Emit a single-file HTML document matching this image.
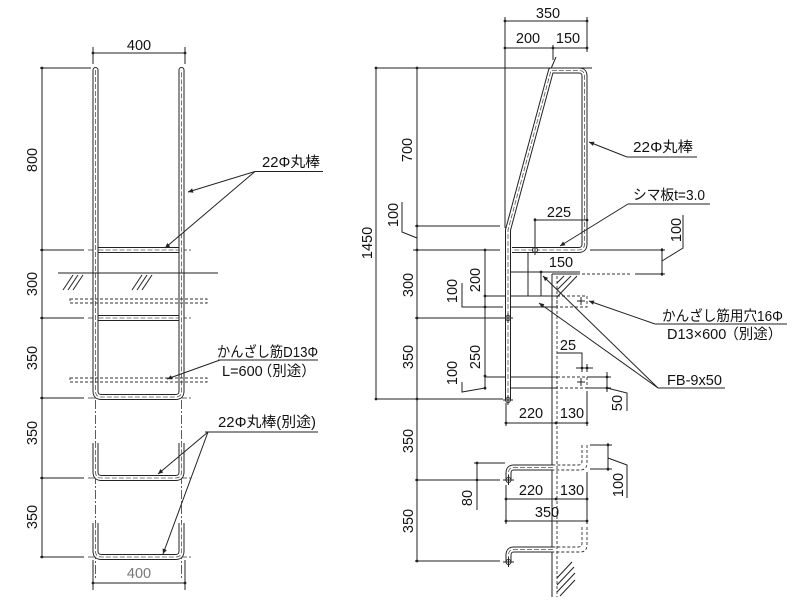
<!DOCTYPE html>
<html><head><meta charset="utf-8">
<style>
html,body{margin:0;padding:0;background:#fff;}
svg{display:block;}
text{font-family:"Liberation Sans","Noto Sans CJK JP",sans-serif;font-size:14.5px;fill:#111;}
.l{stroke:#222;stroke-width:1;fill:none;}
.d{stroke:#333;stroke-width:0.9;fill:none;stroke-dasharray:3 2;}
.c{stroke:#333;stroke-width:0.8;fill:none;stroke-dasharray:9 2 2 2;}
.t1{stroke:#222;stroke-width:6;fill:none;}
.t2{stroke:#fff;stroke-width:4;fill:none;}
.t3{stroke:#555;stroke-width:0.8;fill:none;stroke-dasharray:5 2;}
.dot{fill:#222;}
.m{text-anchor:middle;}
</style></head>
<body>
<svg width="800" height="603" viewBox="0 0 800 603" xmlns="http://www.w3.org/2000/svg">
<defs>
<marker id="a" viewBox="0 0 10 10" refX="10" refY="5" markerUnits="userSpaceOnUse" markerWidth="10" markerHeight="5" orient="auto">
<path d="M0,0.5 L10,5 L0,9.5 z" fill="#222"/>
</marker>
<path id="railL" d="M95.5,70 L95.5,391 Q95.5,397 101.5,397 L175.5,397 Q181.5,397 181.5,391 L181.5,70"/>
<path id="rung1" d="M98.5,250 L178.5,250"/>
<path id="rung2" d="M98.5,318 L178.5,318"/>
<path id="u1" d="M95.5,443 L95.5,472 Q95.5,478 101.5,478 L175.5,478 Q181.5,478 181.5,472 L181.5,443"/>
<path id="u2" d="M95.5,523 L95.5,551 Q95.5,557 101.5,557 L175.5,557 Q181.5,557 181.5,551 L181.5,523"/>
<path id="railR" d="M508,400 L508,230 L551,70.5 L579,70.5 Q584.5,70.5 584.5,76 L584.5,244 Q584.5,250 578.5,250 L512,250"/>
<path id="s1" d="M553,467.5 L514,467.5 Q508.5,467.5 508.5,473 L508.5,480"/>
<path id="s2" d="M553,549.5 L514,549.5 Q508.5,549.5 508.5,555 L508.5,562"/>
</defs>

<!-- ================= LEFT DRAWING ================= -->
<line class="l" x1="93" y1="53" x2="185" y2="53"/>
<line class="l" x1="93" y1="47" x2="93" y2="64"/>
<line class="l" x1="185" y1="47" x2="185" y2="64"/>
<circle class="dot" cx="93" cy="53" r="1.4"/><circle class="dot" cx="185" cy="53" r="1.4"/>
<text class="m" x="139" y="50">400</text>

<line class="l" x1="42" y1="68" x2="42" y2="557"/>
<line class="l" x1="40" y1="68" x2="91" y2="68"/>
<line class="l" x1="40" y1="250" x2="84" y2="250"/>
<line class="l" x1="40" y1="318" x2="84" y2="318"/>
<line class="l" x1="40" y1="398" x2="84" y2="398"/>
<line class="l" x1="40" y1="478" x2="84" y2="478"/>
<line class="l" x1="40" y1="557" x2="84" y2="557"/>
<circle class="dot" cx="42" cy="68" r="1.4"/><circle class="dot" cx="42" cy="250" r="1.4"/>
<circle class="dot" cx="42" cy="318" r="1.4"/><circle class="dot" cx="42" cy="398" r="1.4"/>
<circle class="dot" cx="42" cy="478" r="1.4"/><circle class="dot" cx="42" cy="557" r="1.4"/>
<text class="m" transform="translate(37,160) rotate(-90)">800</text>
<text class="m" transform="translate(37,284) rotate(-90)">300</text>
<text class="m" transform="translate(37,358) rotate(-90)">350</text>
<text class="m" transform="translate(37,433) rotate(-90)">350</text>
<text class="m" transform="translate(37,517) rotate(-90)">350</text>

<line class="c" x1="88" y1="250" x2="191" y2="250"/>
<line class="c" x1="88" y1="318" x2="191" y2="318"/>
<line class="c" x1="88" y1="398" x2="191" y2="398"/>
<line class="c" x1="88" y1="478" x2="191" y2="478"/>
<line class="c" x1="88" y1="557" x2="191" y2="557"/>
<line class="c" x1="95.5" y1="400" x2="95.5" y2="580"/>
<line class="c" x1="181.5" y1="400" x2="181.5" y2="580"/>

<use href="#railL" class="t1" stroke-linecap="round"/>
<use href="#railL" class="t2" stroke-linecap="round"/>
<use href="#railL" class="t3"/>
<use href="#rung1" class="t1"/><use href="#rung1" class="t2"/><use href="#rung1" class="t3"/>
<use href="#rung2" class="t1"/><use href="#rung2" class="t2"/><use href="#rung2" class="t3"/>
<use href="#u1" class="t1"/><use href="#u1" class="t2"/><use href="#u1" class="t3"/>
<use href="#u2" class="t1"/><use href="#u2" class="t2"/><use href="#u2" class="t3"/>

<line class="l" x1="58" y1="273" x2="218" y2="273"/>
<g class="l" stroke-width="0.8">
<line x1="63" y1="290" x2="73" y2="275"/><line x1="68" y1="290" x2="78" y2="275"/><line x1="73" y1="290" x2="83" y2="275"/>
<line x1="132" y1="290" x2="142" y2="275"/><line x1="137" y1="290" x2="147" y2="275"/><line x1="142" y1="290" x2="152" y2="275"/>
</g>

<rect class="d" x="70" y="299" width="137" height="4"/>
<rect class="d" x="70" y="378" width="137" height="4"/>

<text x="262" y="167" textLength="58" lengthAdjust="spacingAndGlyphs">22Φ丸棒</text>
<line class="l" x1="255" y1="171.5" x2="323" y2="171.5"/>
<line class="l" x1="255" y1="171.5" x2="188" y2="192" marker-end="url(#a)"/>
<line class="l" x1="255" y1="171.5" x2="165" y2="248" marker-end="url(#a)"/>

<text x="217" y="357" textLength="101" lengthAdjust="spacingAndGlyphs">かんざし筋D13Φ</text>
<line class="l" x1="218" y1="360" x2="318" y2="360"/>
<text x="222" y="376">L=600<tspan dx="-5">（別途）</tspan></text>
<line class="l" x1="220" y1="360" x2="167" y2="379" marker-end="url(#a)"/>

<text x="218" y="427" textLength="98" lengthAdjust="spacingAndGlyphs">22Φ丸棒(別途)</text>
<line class="l" x1="205" y1="432" x2="318" y2="432"/>
<line class="l" x1="208" y1="432" x2="158" y2="474" marker-end="url(#a)"/>
<line class="l" x1="208" y1="432" x2="163" y2="554" marker-end="url(#a)"/>

<text class="m" x="139" y="578" style="fill:#777">400</text>
<line class="l" x1="93" y1="583" x2="185" y2="583"/>
<line class="l" x1="93" y1="560" x2="93" y2="590"/>
<line class="l" x1="185" y1="560" x2="185" y2="590"/>
<circle class="dot" cx="93" cy="583" r="1.4"/><circle class="dot" cx="185" cy="583" r="1.4"/>

<!-- ================= RIGHT DRAWING ================= -->
<text class="m" x="548" y="18">350</text>
<line class="l" x1="505" y1="21" x2="587" y2="21"/>
<text class="m" x="528" y="43">200</text>
<text class="m" x="568" y="43">150</text>
<line class="l" x1="505" y1="48" x2="587" y2="48"/>
<line class="l" x1="505" y1="17" x2="505" y2="228"/>
<line class="l" x1="587" y1="17" x2="587" y2="52"/>
<line class="l" x1="553" y1="45" x2="553" y2="60"/>
<line class="l" x1="556" y1="57" x2="550" y2="71"/>
<circle class="dot" cx="505" cy="21" r="1.4"/><circle class="dot" cx="587" cy="21" r="1.4"/>
<circle class="dot" cx="505" cy="48" r="1.4"/><circle class="dot" cx="553" cy="48" r="1.4"/><circle class="dot" cx="587" cy="48" r="1.4"/>

<line class="l" x1="375" y1="68" x2="592" y2="68"/>

<line class="l" x1="376" y1="68" x2="376" y2="399"/>
<circle class="dot" cx="376" cy="68" r="1.4"/><circle class="dot" cx="376" cy="399" r="1.4"/>
<text class="m" transform="translate(372,243) rotate(-90)">1450</text>

<line class="l" x1="417" y1="68" x2="417" y2="561"/>
<circle class="dot" cx="417" cy="68" r="1.4"/><circle class="dot" cx="417" cy="226" r="1.4"/>
<circle class="dot" cx="417" cy="250" r="1.4"/><circle class="dot" cx="417" cy="318" r="1.4"/>
<circle class="dot" cx="417" cy="399" r="1.4"/><circle class="dot" cx="417" cy="480" r="1.4"/>
<circle class="dot" cx="417" cy="561" r="1.4"/>
<text class="m" transform="translate(412,150) rotate(-90)">700</text>
<text class="m" transform="translate(398,215) rotate(-90)">100</text>
<polyline class="l" points="402,202 402,232 417,238"/>
<text class="m" transform="translate(413,285) rotate(-90)">300</text>
<text class="m" transform="translate(413,357) rotate(-90)">350</text>
<text class="m" transform="translate(413,441) rotate(-90)">350</text>
<text class="m" transform="translate(413,521) rotate(-90)">350</text>

<line class="l" x1="415" y1="226" x2="500" y2="226"/>
<line class="l" x1="413" y1="250" x2="500" y2="250"/>
<line class="l" x1="590" y1="250" x2="665" y2="250"/>
<line class="l" x1="415" y1="318" x2="503" y2="318"/>
<line class="l" x1="376" y1="399" x2="503" y2="399"/>
<line class="l" x1="415" y1="480" x2="500" y2="480"/>
<line class="l" x1="415" y1="561" x2="500" y2="561"/>

<line class="l" x1="485" y1="250" x2="485" y2="390"/>
<circle class="dot" cx="485" cy="250" r="1.4"/><circle class="dot" cx="485" cy="296" r="1.4"/>
<circle class="dot" cx="485" cy="307" r="1.4"/><circle class="dot" cx="485" cy="376" r="1.4"/>
<circle class="dot" cx="485" cy="388" r="1.4"/>
<text class="m" transform="translate(480,280) rotate(-90)">200</text>
<text class="m" transform="translate(457,291) rotate(-90)">100</text>
<text class="m" transform="translate(480,357) rotate(-90)">250</text>
<text class="m" transform="translate(457,373) rotate(-90)">100</text>
<polyline class="l" points="462,283 462,307 503,307"/>
<polyline class="l" points="462,382 462,392 485,388"/>

<line class="l" x1="485" y1="296" x2="557" y2="296"/>
<line class="l" x1="511" y1="307" x2="557" y2="307"/>
<line class="l" x1="528" y1="250" x2="528" y2="296"/>
<line class="l" x1="541" y1="272" x2="541" y2="296"/>
<rect class="d" x="557" y="296" width="30" height="11"/>
<line class="l" x1="577" y1="301" x2="585" y2="301"/><line class="l" x1="581" y1="297" x2="581" y2="305"/>

<line class="l" x1="485" y1="377" x2="557" y2="377"/>
<line class="l" x1="511" y1="388" x2="557" y2="388"/>
<rect class="d" x="557" y="377" width="30" height="11"/>
<line class="l" x1="577" y1="382" x2="585" y2="382"/><line class="l" x1="581" y1="378" x2="581" y2="386"/>

<line class="l" x1="552" y1="274" x2="552" y2="597"/>
<line class="d" x1="557" y1="276" x2="557" y2="597"/>
<line class="l" x1="552" y1="274" x2="577" y2="274"/>
<line class="d" x1="577" y1="274" x2="632" y2="274"/>
<line class="l" x1="635" y1="274" x2="665" y2="274"/>
<line class="l" x1="505" y1="272" x2="580" y2="272"/>
<circle class="dot" cx="541" cy="272" r="1.4"/>
<g class="l" stroke-width="0.8">
<line x1="557" y1="297" x2="577" y2="276"/>
<line x1="557" y1="290" x2="571" y2="276"/>
<line x1="557" y1="283" x2="564" y2="276"/>
</g>
<g class="l" stroke-width="0.8">
<line x1="557" y1="578" x2="572" y2="562"/>
<line x1="557" y1="585" x2="574" y2="567"/>
<line x1="557" y1="592" x2="575" y2="573"/>
<line x1="560" y1="596" x2="575" y2="580"/>
</g>

<use href="#railR" class="t1" stroke-linejoin="round"/>
<use href="#railR" class="t2" stroke-linejoin="round"/>
<use href="#railR" class="t3"/>
<g class="l" stroke-width="0.9">
<circle cx="508" cy="318" r="2.5" fill="#fff"/><line x1="503" y1="318" x2="513" y2="318"/><line x1="508" y1="313" x2="508" y2="323"/>
<circle cx="508" cy="400" r="2.5" fill="#fff"/><line x1="503" y1="400" x2="513" y2="400"/><line x1="508" y1="395" x2="508" y2="405"/>
<circle cx="535" cy="250" r="2.5" fill="#fff"/><line x1="535" y1="245" x2="535" y2="255"/>
</g>

<text class="m" x="559" y="217">225</text>
<line class="l" x1="535" y1="220" x2="587" y2="220"/>
<line class="l" x1="535" y1="218" x2="535" y2="246"/>
<circle class="dot" cx="535" cy="220" r="1.4"/><circle class="dot" cx="587" cy="220" r="1.4"/>

<text class="m" x="561" y="267">150</text>

<line class="l" x1="662" y1="248" x2="662" y2="276"/>
<circle class="dot" cx="662" cy="250" r="1.4"/><circle class="dot" cx="662" cy="274" r="1.4"/>
<polyline class="l" points="662,261 683,248 683,215"/>
<text class="m" transform="translate(681,230) rotate(-90)">100</text>

<text x="633" y="152" textLength="60" lengthAdjust="spacingAndGlyphs">22Φ丸棒</text>
<line class="l" x1="627" y1="157" x2="697" y2="157"/>
<line class="l" x1="627" y1="157" x2="589" y2="142" marker-end="url(#a)"/>

<text x="633" y="200" textLength="72" lengthAdjust="spacingAndGlyphs">シマ板t=3.0</text>
<line class="l" x1="628" y1="204" x2="710" y2="204"/>
<line class="l" x1="628" y1="204" x2="560" y2="246" marker-end="url(#a)"/>

<text x="662" y="321" textLength="121" lengthAdjust="spacingAndGlyphs">かんざし筋用穴16Φ</text>
<line class="l" x1="655" y1="324" x2="787" y2="324"/>
<text x="667" y="339">D13×600<tspan dx="-2">（別途）</tspan></text>
<line class="l" x1="655" y1="324" x2="589" y2="301" marker-end="url(#a)"/>

<text x="667" y="385" textLength="55" lengthAdjust="spacingAndGlyphs">FB-9x50</text>
<line class="l" x1="658" y1="388" x2="725" y2="388"/>
<line class="l" x1="658" y1="388" x2="543" y2="276" marker-end="url(#a)"/>
<line class="l" x1="658" y1="388" x2="539" y2="303" marker-end="url(#a)"/>

<text class="m" x="568" y="350">25</text>
<polyline class="l" points="557,353 582,353 582,372"/>
<line class="l" x1="576" y1="368" x2="593" y2="368"/>
<line class="l" x1="587" y1="364" x2="587" y2="372"/>
<circle class="dot" cx="582" cy="368" r="1.4"/><circle class="dot" cx="587" cy="368" r="1.4"/>

<line class="l" x1="587" y1="377" x2="611" y2="377"/>
<line class="l" x1="587" y1="388" x2="611" y2="388"/>
<line class="l" x1="607" y1="372" x2="607" y2="392"/>
<circle class="dot" cx="607" cy="377" r="1.4"/><circle class="dot" cx="607" cy="388" r="1.4"/>
<polyline class="l" points="607,388 627,393 627,411"/>
<text class="m" transform="translate(622,403) rotate(-90)">50</text>

<text class="m" x="531" y="418">220</text>
<text class="m" x="572" y="418">130</text>
<line class="l" x1="506" y1="423" x2="587" y2="423"/>
<line class="l" x1="506" y1="403" x2="506" y2="426"/>
<line class="l" x1="587" y1="391" x2="587" y2="426"/>
<circle class="dot" cx="506" cy="423" r="1.4"/><circle class="dot" cx="556" cy="423" r="1.4"/><circle class="dot" cx="587" cy="423" r="1.4"/>

<use href="#s1" class="t1"/><use href="#s1" class="t2"/><use href="#s1" class="t3"/>
<path class="d" d="M587,445 L587,463 Q587,470 580,470 L553,470"/>
<path class="d" d="M582,445 L582,461 Q582,465 578,465 L553,465"/>
<use href="#s2" class="t1"/><use href="#s2" class="t2"/><use href="#s2" class="t3"/>
<path class="d" d="M587,527 L587,545 Q587,552 580,552 L553,552"/>
<path class="d" d="M582,527 L582,543 Q582,547 578,547 L553,547"/>
<g class="l" stroke-width="0.9">
<circle cx="508.5" cy="480" r="2.5" fill="#fff"/><line x1="503" y1="480" x2="514" y2="480"/><line x1="508.5" y1="475" x2="508.5" y2="485"/>
<circle cx="508.5" cy="562" r="2.5" fill="#fff"/><line x1="503" y1="562" x2="514" y2="562"/><line x1="508.5" y1="557" x2="508.5" y2="567"/>
</g>

<line class="l" x1="590" y1="445" x2="612" y2="445"/>
<line class="l" x1="590" y1="469" x2="612" y2="469"/>
<line class="l" x1="608" y1="443" x2="608" y2="471"/>
<circle class="dot" cx="608" cy="445" r="1.4"/><circle class="dot" cx="608" cy="469" r="1.4"/>
<polyline class="l" points="608,458 627,465 627,498"/>
<text class="m" transform="translate(623,485) rotate(-90)">100</text>

<line class="l" x1="474" y1="463" x2="505" y2="463"/>
<line class="l" x1="477" y1="463" x2="477" y2="510"/>
<circle class="dot" cx="477" cy="463" r="1.4"/><circle class="dot" cx="477" cy="480" r="1.4"/>
<text class="m" transform="translate(472,498) rotate(-90)">80</text>

<text class="m" x="531" y="495">220</text>
<text class="m" x="572" y="495">130</text>
<line class="l" x1="506" y1="499" x2="587" y2="499"/>
<circle class="dot" cx="506" cy="499" r="1.4"/><circle class="dot" cx="556" cy="499" r="1.4"/><circle class="dot" cx="587" cy="499" r="1.4"/>
<text class="m" x="547" y="517">350</text>
<line class="l" x1="506" y1="521" x2="587" y2="521"/>
<circle class="dot" cx="506" cy="521" r="1.4"/><circle class="dot" cx="587" cy="521" r="1.4"/>
<line class="l" x1="506" y1="485" x2="506" y2="524"/>
<line class="l" x1="587" y1="472" x2="587" y2="524"/>
</svg>
</body></html>
